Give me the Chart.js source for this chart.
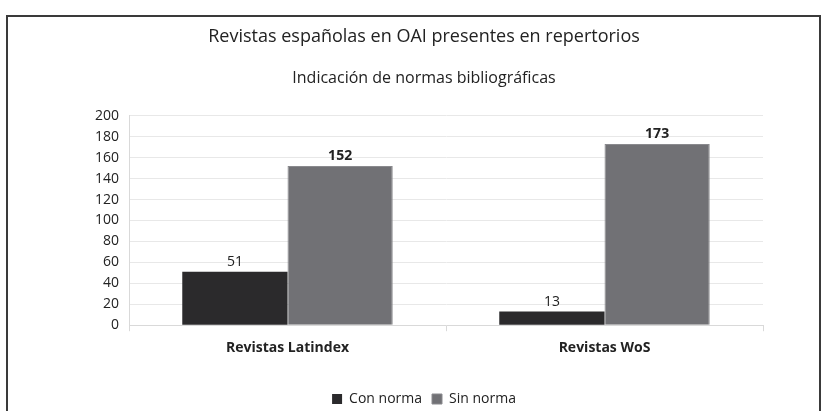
<!DOCTYPE html>
<html lang="es">
<head>
<meta charset="UTF-8">
<title>Revistas españolas en OAI presentes en repertorios</title>
<script src="https://cdn.jsdelivr.net/npm/chart.js"></script>
<style>
  html, body { margin: 0; padding: 0; background: #fff; }
  .marco {
    position: absolute; left: 6px; top: 15px; width: 815px; height: 420px;
    border: 2px solid #3a3a3a; box-sizing: border-box;
  }
  .lienzo { position: absolute; left: 0; top: 0; width: 829px; height: 411px; }
</style>
</head>
<body>
<div class="marco"></div>
<div class="lienzo"><canvas id="grafico" width="829" height="411"></canvas></div>
<script>
  // datos
  const categorias = ['Revistas Latindex', 'Revistas WoS'];
  const conNorma = [51, 13];
  const sinNorma = [152, 173];
  const ticksY = [0, 20, 40, 60, 80, 100, 120, 140, 160, 180, 200];

  const fuente = '"Open Sans", Lato, sans-serif';

  // etiquetas de valor encima de cada barra
  const etiquetas = {
    id: 'etiquetas',
    afterDatasetsDraw(chart) {
      const ctx = chart.ctx;
      chart.data.datasets.forEach((ds, i) => {
        const meta = chart.getDatasetMeta(i);
        meta.data.forEach((bar, j) => {
          ctx.save();
          ctx.fillStyle = '#222';
          ctx.font = (i === 1 ? 'bold ' : '') + '14px ' + fuente;
          ctx.textAlign = 'center';
          ctx.textBaseline = 'bottom';
          ctx.fillText(ds.data[j], bar.x, bar.y - 3);
          ctx.restore();
        });
      });
    }
  };

  new Chart(document.getElementById('grafico'), {
    type: 'bar',
    data: {
      labels: categorias,
      datasets: [
        { label: 'Con norma', data: conNorma, backgroundColor: '#2b2a2c', borderWidth: 0 },
        { label: 'Sin norma', data: sinNorma, backgroundColor: '#717175', borderColor: '#8a8a8e', borderWidth: 1 }
      ]
    },
    options: {
      responsive: false,
      animation: false,
      layout: { padding: { left: 85, right: 66, top: 6, bottom: -5 } },
      datasets: { bar: { categoryPercentage: 0.664, barPercentage: 1 } },
      plugins: {
        title: {
          display: true,
          text: 'Revistas españolas en OAI presentes en repertorios',
          color: '#222',
          font: { family: fuente, size: 18, weight: 'normal' },
          padding: { top: 20, bottom: 21 }
        },
        subtitle: {
          display: true,
          text: 'Indicación de normas bibliográficas',
          color: '#222',
          font: { family: fuente, size: 16, weight: 'normal' },
          padding: { bottom: 28 }
        },
        legend: {
          position: 'bottom',
          labels: {
            color: '#222',
            font: { family: fuente, size: 14 },
            boxWidth: 10, boxHeight: 10, padding: 10
          }
        },
        tooltip: { enabled: false }
      },
      scales: {
        x: {
          afterFit: (ax) => { ax.height += 18; },
          grid: { drawOnChartArea: false, drawTicks: true, tickLength: 6, color: '#d9d9d9' },
          border: { color: '#d9d9d9' },
          ticks: { color: '#222', font: { family: fuente, size: 14, weight: 'bold' }, padding: 8 }
        },
        y: {
          min: 0, max: 200,
          afterBuildTicks: (ax) => { ax.ticks = ticksY.map(v => ({ value: v })); },
          grid: { color: '#e8e8e8', drawTicks: false },
          border: { color: '#d9d9d9' },
          ticks: { color: '#222', font: { family: fuente, size: 14 }, padding: 10 }
        }
      }
    },
    plugins: [etiquetas]
  });
</script>
</body>
</html>
